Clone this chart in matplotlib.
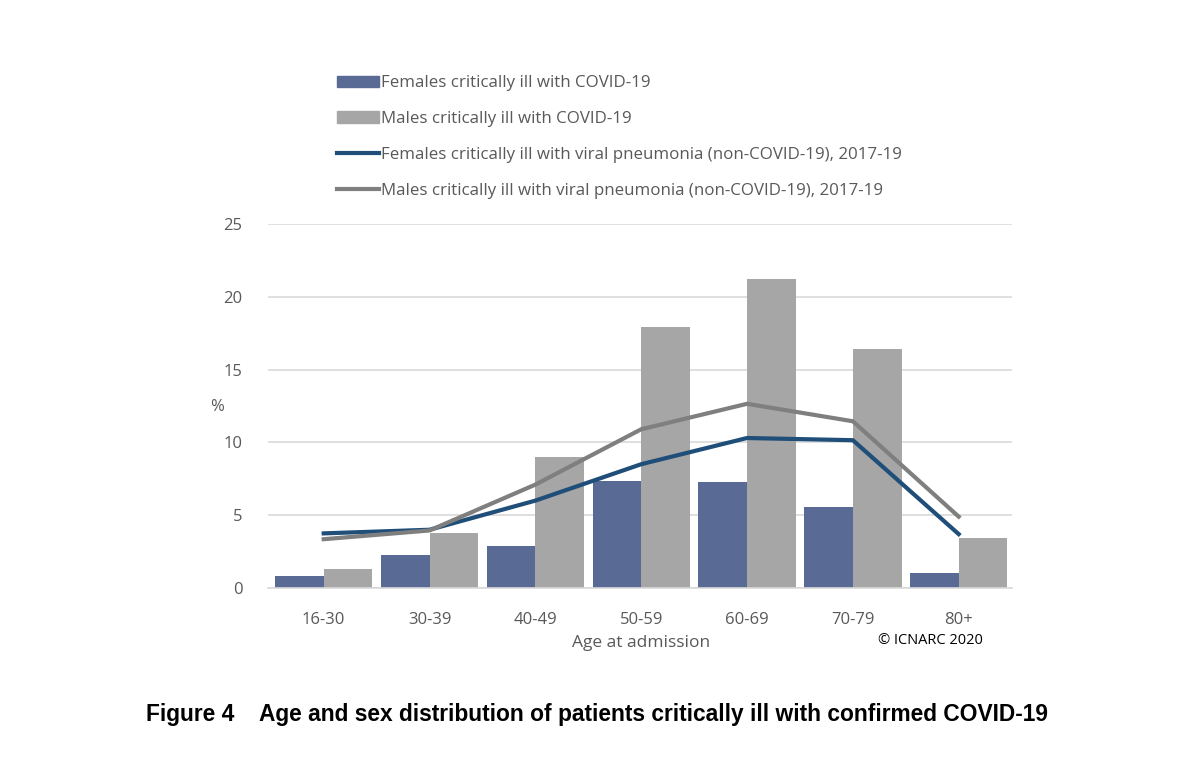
import numpy as np
import matplotlib.pyplot as plt
from matplotlib.patches import Patch
from matplotlib.lines import Line2D

ages = ["16-30", "30-39", "40-49", "50-59", "60-69", "70-79", "80+"]
females_covid = [0.8, 2.25, 2.9, 7.35, 7.3, 5.55, 1.05]
males_covid = [1.3, 3.8, 9.0, 17.9, 21.2, 16.4, 3.45]
females_pneu = [3.75, 4.0, 6.0, 8.5, 10.3, 10.15, 3.7]
males_pneu = [3.35, 3.95, 7.1, 10.9, 12.65, 11.45, 4.9]

labels = ["Females critically ill with COVID-19",
          "Males critically ill with COVID-19",
          "Females critically ill with viral pneumonia (non-COVID-19), 2017-19",
          "Males critically ill with viral pneumonia (non-COVID-19), 2017-19"]

c_fbar = "#596A94"
c_mbar = "#A6A6A6"
c_fline = "#1F4E79"
c_mline = "#7F7F7F"
txt = "#595959"

plt.rcParams['font.family'] = ['Open Sans', 'DejaVu Sans']

fig = plt.figure(figsize=(12, 7.66), dpi=100)
ax = fig.add_axes([0.223, 0.2324, 0.62, 0.4752])

x = np.arange(len(ages))
w = 0.46
ax.bar(x - w / 2, females_covid, w, color=c_fbar, zorder=2)
ax.bar(x + w / 2, males_covid, w, color=c_mbar, zorder=2)
ax.plot(x, females_pneu, color=c_fline, lw=3, zorder=3)
ax.plot(x, males_pneu, color=c_mline, lw=3, zorder=3)

ax.set_xlim(-0.53, 6.5)
ax.set_ylim(0, 25)
ax.set_yticks([0, 5, 10, 15, 20, 25])
ax.set_xticks(x)
ax.set_xticklabels(ages)
ax.yaxis.grid(True, color="#D9D9D9", lw=1.2, zorder=0)
ax.set_axisbelow(True)
for s in ["top", "right", "left"]:
    ax.spines[s].set_visible(False)
ax.spines["bottom"].set_color("#D9D9D9")
ax.spines["bottom"].set_linewidth(1.2)
ax.tick_params(length=0, labelsize=12, labelcolor=txt, pad=17)
ax.tick_params(axis="y", pad=18)

fig.text(217 / 1200, 1 - 407 / 766, "%", fontsize=12, color=txt, ha="center", va="center")
fig.text(641 / 1200, 1 - 643 / 766, "Age at admission", fontsize=12.5, color=txt, ha="center", va="center")
fig.text(930 / 1200, 1 - 640 / 766, "© ICNARC 2020", fontsize=10.5, color="black", ha="center", va="center")

handles = [Patch(color=c_fbar), Patch(color=c_mbar),
           Line2D([], [], color=c_fline, lw=3), Line2D([], [], color=c_mline, lw=3)]
fig.legend(handles, labels, loc="upper left", bbox_to_anchor=(329 / 1200, 1 - 67 / 766),
           frameon=False, fontsize=12.2, labelcolor=txt, handlelength=2.45,
           handleheight=0.7, handletextpad=0.1, labelspacing=1.17, borderpad=0)

fig.text(597 / 1200, 1 - 715 / 766,
         "Figure 4    Age and sex distribution of patients critically ill with confirmed COVID-19",
         fontsize=16.4, fontweight="bold", family="Liberation Sans", ha="center", va="center")

fig.savefig("out.png", dpi=100)
